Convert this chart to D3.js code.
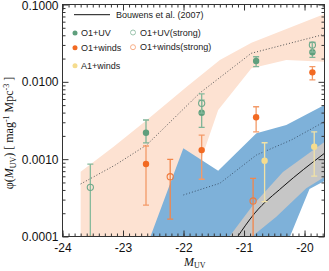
<!DOCTYPE html>
<html><head><meta charset="utf-8">
<script src="https://cdn.jsdelivr.net/npm/d3@7"></script>
<style>body{margin:0;background:#fff}svg{display:block}</style>
</head><body><svg id="c" width="329" height="271"></svg>
<script>
// ---------- data ----------
const xDomain = [-24, -19.67];
const yDomain = [1e-4, 0.1];
const xMajorTicks = [-24, -23, -22, -21, -20];
const xTickLabels = ["-24", "-23", "-22", "-21", "-20"];
const yMajorTicks = [1e-4, 1e-3, 1e-2, 1e-1];
const yTickLabels = ["0.0001", "0.0010", "0.0100", "0.1000"];

// O1+UV (filled green)
const uvM   = [-22.62, -21.70, -20.80, -19.87];
const uvPhi = [0.00220, 0.00399, 0.0186, 0.0241];
const uvLo  = [0.00162, 0.00258, 0.0157, 0.0207];
const uvHi  = [0.00321, 0.00580, 0.0211, 0.0324];
// O1+UV(strong) (open green)
const uvsM   = [-23.54, -21.70, -19.87];
const uvsPhi = [0.000432, 0.00527, 0.0299];
const uvsLo  = [0.00001, 0.00395, 0.0243];
const uvsHi  = [0.000865, 0.00697, 0.0324];
// O1+winds (filled orange)
const wM   = [-23.54, -22.62, -21.70, -20.80, -19.87];
const wPhi = [0.00006, 0.000865, 0.00131, 0.00348, 0.01327];
const wLo  = [0.00001, 0.000255, 0.00055, 0.00226, 0.01057];
const wHi  = [0.0001, 0.00148, 0.00205, 0.00476, 0.0157];
// O1+winds(strong) (open orange)
const wsM   = [-22.22, -20.85];
const wsPhi = [0.000593, 0.000288];
const wsLo  = [0.000168, 0.00001];
const wsHi  = [0.000996, 0.000565];
// A1+winds (yellow)
const aM   = [-20.66, -19.84];
const aPhi = [0.000955, 0.00145];
const aLo  = [0.000282, 0.000605];
const aHi  = [0.00163, 0.00226];

// Bouwens et al. (2007) line and band
const bwM   = [-21.124, -20.823, -20.357, -19.671];
const bwPhi = [9.48e-5, 2.00e-4, 4.41e-4, 1.19e-3];
const grayUpM   = [-21.263, -20.851, -20.357, -19.671];
const grayUpPhi = [9.48e-5, 2.55e-4, 6.82e-4, 1.667e-3];
const grayLoM   = [-20.905, -20.466, -19.972, -19.671];
const grayLoPhi = [9.48e-5, 1.80e-4, 4.20e-4, 5.87e-4];

// peach band (O1+UV model range)
const peachUpM   = [-23.70, -23.156, -22.606, -21.947, -21.399, -20.877, -19.671];
const peachUpPhi = [6.89e-4, 1.449e-3, 3.21e-3, 8.65e-3, 1.914e-2, 3.21e-2, 7.53e-2];
const peachLoM   = [-19.671, -20.301, -20.877, -21.427, -21.728, -22.25, -23.70];
const peachLoPhi = [1.82e-2, 1.914e-2, 1.496e-2, 4.33e-3, 8.91e-4, 8.71e-5, 8.71e-5];
// blue band (winds model range)
const blueM   = [-22.575, -22.003, -21.427, -20.795, -20.301, -19.671, -19.671, -19.918, -20.272];
const bluePhi = [8.71e-5, 1.380e-3, 7.10e-4, 2.158e-3, 2.767e-3, 5.01e-3, 5.22e-4, 4.11e-4, 8.71e-5];
// dotted model lines
const dotUpM   = [-23.70, -23.13, -22.61, -21.73, -20.88, -19.67];
const dotUpPhi = [4.78e-4, 8.39e-4, 1.524e-3, 7.18e-3, 2.34e-2, 4.12e-2];
const dotLoM   = [-22.003, -21.399, -20.795, -20.219, -19.671];
const dotLoPhi = [3.44e-4, 4.88e-4, 1.132e-3, 1.770e-3, 3.05e-3];

// ---------- drawing ----------
const L = 62.5, R = 324.5, T = 4.5, B = 236.5;
const x = d3.scaleLinear().domain(xDomain).range([L, R]);
const y = d3.scaleLog().domain(yDomain).range([B, T]);
const svg = d3.select("#c");

svg.append("clipPath").attr("id", "clip").append("rect")
  .attr("x", L).attr("y", T).attr("width", R - L).attr("height", B - T);
const g = svg.append("g").attr("clip-path", "url(#clip)");

const pts = (ms, ps) => ms.map((m, i) => [x(m), y(ps[i])]);
const poly = (arr) => "M" + arr.map(p => p.join(",")).join("L") + "Z";

g.append("path").attr("d", poly(pts(peachUpM, peachUpPhi).concat(pts(peachLoM, peachLoPhi))))
  .attr("fill", "#fde2d2");
g.append("path").attr("d", poly(pts(blueM, bluePhi))).attr("fill", "#7eb1d9");
g.append("path").attr("d", poly(pts(grayUpM, grayUpPhi).concat(pts(grayLoM, grayLoPhi).reverse())))
  .attr("fill", "#c6c6c6");

const line = d3.line().x(d => x(d[0])).y(d => y(d[1]));
const zip = (a, b) => a.map((v, i) => [v, b[i]]);
g.append("path").attr("d", line(zip(dotUpM, dotUpPhi))).attr("fill", "none")
  .attr("stroke", "#555").attr("stroke-width", 1).attr("stroke-dasharray", "1,2");
g.append("path").attr("d", line(zip(dotLoM, dotLoPhi))).attr("fill", "none")
  .attr("stroke", "#3d5670").attr("stroke-width", 1).attr("stroke-dasharray", "1,2");
g.append("path").attr("d", line.curve(d3.curveMonotoneX)(zip(bwM, bwPhi))).attr("fill", "none")
  .attr("stroke", "#111").attr("stroke-width", 1);

function series(ms, ps, lo, hi, col, barCol, open) {
  ms.forEach((m, i) => {
    const cx = x(m);
    g.append("line").attr("x1", cx).attr("x2", cx).attr("y1", y(lo[i])).attr("y2", y(hi[i]))
      .attr("stroke", barCol).attr("stroke-width", 1.3);
    [lo[i], hi[i]].forEach(v => {
      g.append("line").attr("x1", cx - 3).attr("x2", cx + 3).attr("y1", y(v)).attr("y2", y(v))
        .attr("stroke", barCol).attr("stroke-width", 1.3);
    });
    g.append("circle").attr("cx", cx).attr("cy", y(ps[i])).attr("r", open ? 3.1 : 3.2)
      .attr("fill", open ? "none" : col).attr("stroke", col).attr("stroke-width", open ? 1.1 : 0);
  });
}
series(uvM, uvPhi, uvLo, uvHi, "#5f9f7d", "#7fb497", false);
series(uvsM, uvsPhi, uvsLo, uvsHi, "#6fa98a", "#86b99c", true);
series(wM, wPhi, wLo, wHi, "#f26a22", "#f39a68", false);
series(wsM, wsPhi, wsLo, wsHi, "#f07a3c", "#f2864a", true);
series(aM, aPhi, aLo, aHi, "#f5dc8e", "#f1e2a6", false);

// ---------- axes ----------
const axStyle = sel => {
  sel.select(".domain").remove();
  sel.selectAll("line").attr("stroke", "#333");
  sel.selectAll("text").attr("font-family", "Liberation Sans, Arial, sans-serif")
    .attr("font-size", 12).attr("fill", "#111");
};
const xMinor = d3.range(-24, -19.6, 0.1).map(v => +v.toFixed(1));
const yMinor = [];
[1e-4, 1e-3, 1e-2].forEach(d => { for (let k = 2; k <= 9; k++) yMinor.push(d * k); });

svg.append("g").attr("transform", `translate(0,${B})`)
  .call(d3.axisBottom(x).tickValues(xMinor).tickSize(-3).tickFormat("")).call(axStyle);
svg.append("g").attr("transform", `translate(0,${B})`)
  .call(d3.axisBottom(x).tickValues(xMajorTicks).tickSize(-6).tickPadding(7)
    .tickFormat((d, i) => xTickLabels[i])).call(axStyle);
svg.append("g").attr("transform", `translate(0,${T})`)
  .call(d3.axisTop(x).tickValues(xMinor).tickSize(-3).tickFormat("")).call(axStyle);
svg.append("g").attr("transform", `translate(0,${T})`)
  .call(d3.axisTop(x).tickValues(xMajorTicks).tickSize(-6).tickFormat("")).call(axStyle);

svg.append("g").attr("transform", `translate(${L},0)`)
  .call(d3.axisLeft(y).tickValues(yMinor).tickSize(-3).tickFormat("")).call(axStyle);
const yAx = svg.append("g").attr("transform", `translate(${L},0)`)
  .call(d3.axisLeft(y).tickValues(yMajorTicks).tickSize(-6).tickPadding(4)
    .tickFormat((d, i) => yTickLabels[i])).call(axStyle);
yAx.selectAll(".tick").filter(d => d === 0.1).select("text").attr("y", 1.5);
svg.append("g").attr("transform", `translate(${R},0)`)
  .call(d3.axisRight(y).tickValues(yMinor).tickSize(-3).tickFormat("")).call(axStyle);
svg.append("g").attr("transform", `translate(${R},0)`)
  .call(d3.axisRight(y).tickValues(yMajorTicks).tickSize(-6).tickFormat("")).call(axStyle);

svg.append("rect").attr("x", L).attr("y", T).attr("width", R - L).attr("height", B - T)
  .attr("fill", "none").attr("stroke", "#333").attr("stroke-width", 1);

// axis titles
const xt = svg.append("text").attr("x", 184).attr("y", 266)
  .attr("font-family", "Liberation Serif, Times New Roman, serif").attr("font-size", 12).attr("fill", "#111");
xt.append("tspan").attr("font-style", "italic").text("M");
xt.append("tspan").attr("font-size", 8).attr("dy", 2).text("UV");

const yt = svg.append("text").attr("transform", "translate(13,133) rotate(-90)").attr("text-anchor", "middle")
  .attr("font-family", "Liberation Serif, Times New Roman, serif").attr("font-size", 12).attr("fill", "#111");
yt.append("tspan").text("φ(");
yt.append("tspan").attr("font-style", "italic").text("M");
yt.append("tspan").attr("font-size", 8).attr("dy", 2.5).text("UV");
yt.append("tspan").attr("dy", -2.5).text(") [ mag");
yt.append("tspan").attr("font-size", 8).attr("dy", -4.5).text("-1");
yt.append("tspan").attr("dy", 4.5).text(" Mpc");
yt.append("tspan").attr("font-size", 8).attr("dy", -4.5).text("-3");
yt.append("tspan").attr("dy", 4.5).text(" ]");

// legend
const lf = "Liberation Sans, Arial, sans-serif";
const leg = svg.append("g").attr("font-family", lf).attr("font-size", 9).attr("fill", "#222");
leg.append("line").attr("x1", 74).attr("x2", 110).attr("y1", 14.7).attr("y2", 14.7)
  .attr("stroke", "#111").attr("stroke-width", 1);
leg.append("text").attr("x", 116).attr("y", 17.9).text("Bouwens et al. (2007)");
const legItems = [
  {cx: 75, cy: 33, col: "#5f9f7d", open: false, tx: 81, label: "O1+UV"},
  {cx: 75, cy: 47.7, col: "#f26a22", open: false, tx: 81, label: "O1+winds"},
  {cx: 75, cy: 65.7, col: "#f5dc8e", open: false, tx: 81, label: "A1+winds"},
  {cx: 133, cy: 32.5, col: "#8fbca3", open: true, tx: 140, label: "O1+UV(strong)"},
  {cx: 133, cy: 47.2, col: "#f6a67a", open: true, tx: 140, label: "O1+winds(strong)"}
];
legItems.forEach(d => {
  leg.append("circle").attr("cx", d.cx).attr("cy", d.cy).attr("r", 2.5)
    .attr("fill", d.open ? "none" : d.col).attr("stroke", d.col).attr("stroke-width", d.open ? 0.9 : 0);
  leg.append("text").attr("x", d.tx).attr("y", d.cy + 3.2).text(d.label);
});
</script></body></html>
